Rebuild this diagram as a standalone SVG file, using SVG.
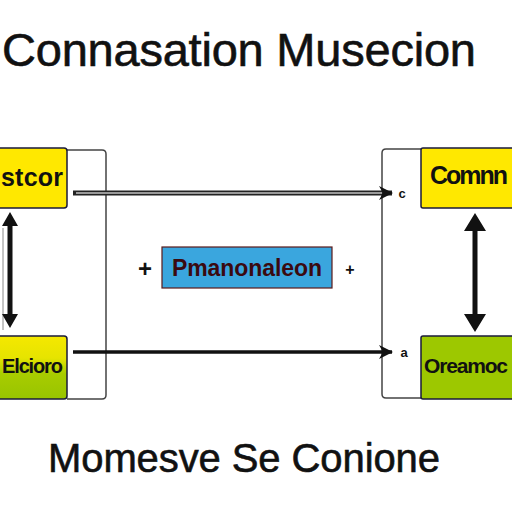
<svg xmlns="http://www.w3.org/2000/svg" width="512" height="512" viewBox="0 0 512 512">
<defs>
<style>
.t{font-family:"Liberation Sans",Arial,sans-serif;fill:#111;stroke:#111;stroke-width:0.6}
.lbl{font-family:"Liberation Sans",Arial,sans-serif;font-weight:bold;fill:#111}
.br{fill:none;stroke:#444;stroke-width:1.5}
.box{stroke:#1a1a3a;stroke-width:1.5}
</style>
<linearGradient id="yg" x1="0" y1="0" x2="0" y2="1">
<stop offset="0" stop-color="#f5e800"/>
<stop offset="0.35" stop-color="#e6e400"/>
<stop offset="0.6" stop-color="#a8cc00"/>
<stop offset="1" stop-color="#98c400"/>
</linearGradient>
<marker id="ah" markerWidth="14" markerHeight="14" refX="13" refY="7" orient="auto" markerUnits="userSpaceOnUse">
<path d="M0,0 L14,7 L0,14 L4,7 Z" fill="#111"/>
</marker>
</defs>
<rect width="512" height="512" fill="#fff"/>
<text class="t" x="239" y="66" font-size="47" text-anchor="middle" textLength="474">Connasation Musecion</text>
<g id="connectors">
<path class="br" d="M67,150 H102 Q106,150 106,154 V395 Q106,399 102,399 H67"/>
<path class="br" d="M421,149 H386 Q382,149 382,153 V394 Q382,398 386,398 H421"/>
<line x1="73" y1="193" x2="392" y2="193" stroke="#222" stroke-width="5" marker-end="url(#ah)"/>
<line x1="76" y1="193" x2="382" y2="193" stroke="#999" stroke-width="2"/>
<line x1="73" y1="352" x2="392" y2="352" stroke="#111" stroke-width="3.5" marker-end="url(#ah)"/>
<line x1="3" y1="228" x2="3" y2="330" stroke="#888" stroke-width="1"/>
<path d="M10,212 L18,226 L12.5,226 L12.5,314 L18,314 L10,328 L2,314 L7.5,314 L7.5,226 L2,226 Z" fill="#111"/>
<path d="M475,213 L486,231 L477.5,231 L477.5,314 L486,314 L475,332 L464,314 L472.5,314 L472.5,231 L464,231 Z" fill="#111"/>
</g>
<g id="node-stcor">
<rect class="box" x="-6" y="148" width="73" height="60" rx="3" fill="#ffe800"/>
<text class="lbl" x="1" y="186" font-size="25" textLength="62">stcor</text>
</g>
<g id="node-common">
<rect class="box" x="421" y="148" width="100" height="60" rx="2" fill="#ffe800"/>
<text class="lbl" x="430" y="184" font-size="25" textLength="78">Comnn</text>
</g>
<g id="node-elcioro">
<rect class="box" x="-6" y="336" width="73" height="63" rx="3" fill="url(#yg)"/>
<text class="lbl" x="2" y="373" font-size="20" textLength="61">Elcioro</text>
</g>
<g id="node-oreamoc">
<rect class="box" x="421" y="336" width="100" height="63" rx="2" fill="#9dc800"/>
<text class="lbl" x="424" y="373" font-size="21" textLength="84">Oreamoc</text>
</g>
<g id="node-center">
<text class="lbl" x="145" y="277" font-size="24" text-anchor="middle">+</text>
<rect x="162" y="247" width="170" height="41" fill="#3aa6de" stroke="#5a1a1a" stroke-width="1.2"/>
<text class="lbl" x="172" y="276" font-size="23" style="fill:#3a0a10" textLength="150">Pmanonaleon</text>
<text class="lbl" x="350" y="275" font-size="16" text-anchor="middle">+</text>
</g>
<text class="lbl" x="402" y="198" font-size="13" text-anchor="middle">c</text>
<text class="lbl" x="404" y="357" font-size="13" text-anchor="middle">a</text>
<text class="t" x="244" y="472" font-size="40" text-anchor="middle" textLength="392">Momesve Se Conione</text>
</svg>
